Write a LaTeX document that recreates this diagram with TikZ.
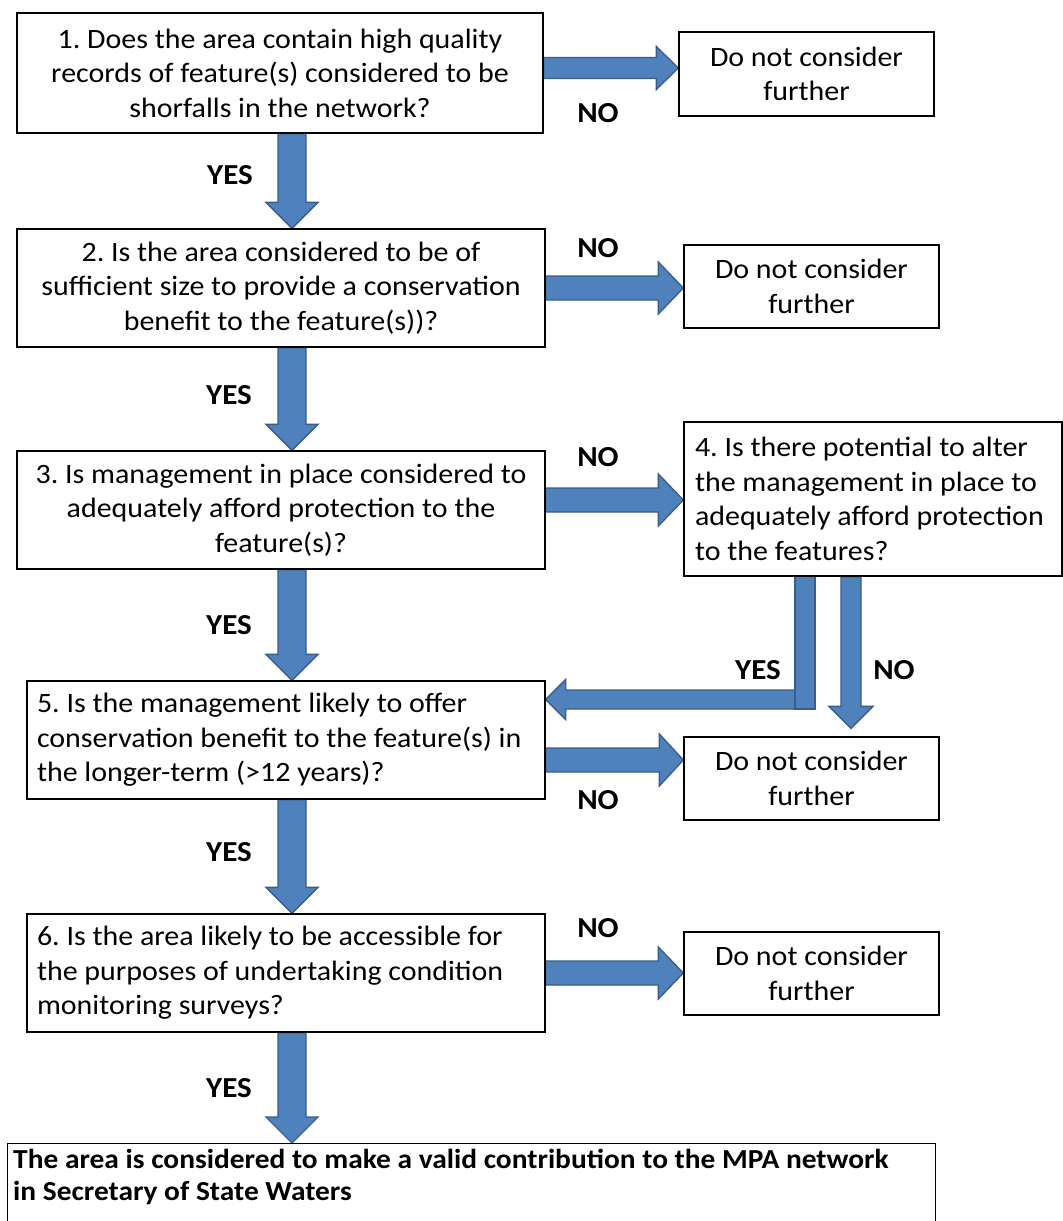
\documentclass[tikz,border=0pt]{standalone}
\usepackage{fontspec}
\setmainfont{Carlito}[FakeStretch=1.07]
\usetikzlibrary{calc,backgrounds}
\definecolor{arrfill}{HTML}{4F81BD}
\definecolor{arredge}{HTML}{385D8A}
\frenchspacing

% right-pointing block arrow: #1 start (y used), #2 end (x of tip), #3 shaft half, #4 head half, #5 head length
\newcommand\RArrow[5]{%
  \path[barrow] let \p1=#1, \p2=#2 in
    (\x1,{\y1+#3pt}) -- ({\x2-#5pt},{\y1+#3pt}) -- ({\x2-#5pt},{\y1+#4pt}) -- (\x2,\y1)
    -- ({\x2-#5pt},{\y1-#4pt}) -- ({\x2-#5pt},{\y1-#3pt}) -- (\x1,{\y1-#3pt}) -- cycle;}
% left-pointing block arrow
\newcommand\LArrow[5]{%
  \path[barrow] let \p1=#1, \p2=#2 in
    (\x1,{\y1+#3pt}) -- ({\x2+#5pt},{\y1+#3pt}) -- ({\x2+#5pt},{\y1+#4pt}) -- (\x2,\y1)
    -- ({\x2+#5pt},{\y1-#4pt}) -- ({\x2+#5pt},{\y1-#3pt}) -- (\x1,{\y1-#3pt}) -- cycle;}
% downward block arrow: #1 start (x used), #2 end (y of tip)
\newcommand\DArrow[5]{%
  \path[barrow] let \p1=#1, \p2=#2 in
    ({\x1-#3pt},\y1) -- ({\x1-#3pt},{\y2+#5pt}) -- ({\x1-#4pt},{\y2+#5pt}) -- (\x1,\y2)
    -- ({\x1+#4pt},{\y2+#5pt}) -- ({\x1+#3pt},{\y2+#5pt}) -- ({\x1+#3pt},\y1) -- cycle;}

\begin{document}
\frenchspacing
\begin{tikzpicture}[x=1pt,y=-1pt,
  box/.style={draw=black, line width=1.3pt, fill=white, inner sep=0pt,
              font=\fontsize{28}{34.5}\selectfont\frenchspacing},
  cbox/.style={box, align=center},
  lbox/.style={box, align=flush left, inner xsep=11pt},
  lbl/.style={font=\fontsize{29}{30}\selectfont\bfseries, inner sep=0pt},
  barrow/.style={fill=arrfill, draw=arredge, line width=1.3pt, line join=miter}]
\useasboundingbox (0,0) rectangle (1063,1221);

% question boxes
\node[cbox, minimum width=526pt, minimum height=120pt] (b1) at (280,73)
  {1. Does the area contain high quality\\records of feature(s) considered to be\\shorfalls in the network?};
\node[cbox, minimum width=528pt, minimum height=118pt] (b2) at (281,288)
  {2. Is the area considered to be of\\sufficient size to provide a conservation\\benefit to the feature(s))?};
\node[cbox, minimum width=528pt, minimum height=118pt] (b3) at (281,510)
  {3. Is management in place considered to\\adequately afford protection to the\\feature(s)?};
\node[lbox, text width=356pt, minimum height=154pt] (b4) at (873,499)
  {4. Is there potential to alter\\the management in place to\\adequately afford protection\\to the features?};
\node[lbox, inner xsep=10pt, text width=498pt, minimum height=118pt] (b5) at (286,740)
  {5. Is the management likely to offer\\conservation benefit to the feature(s) in\\the longer-term (>12 years)?};
\node[lbox, inner xsep=10pt, text width=498pt, minimum height=118pt] (b6) at (286,973)
  {6. Is the area likely to be accessible for\\the purposes of undertaking condition\\monitoring surveys?};

% "do not consider further" boxes
\node[cbox, minimum width=255pt, minimum height=84pt] (d1) at (806.5,74) {Do not consider\\further};
\node[cbox, minimum width=255pt, minimum height=83pt] (d2) at (811.5,286.5) {Do not consider\\further};
\node[cbox, minimum width=255pt, minimum height=83pt] (d3) at (811.5,778.5) {Do not consider\\further};
\node[cbox, minimum width=255pt, minimum height=83pt] (d4) at (811.5,973.5) {Do not consider\\further};

% final box
\node[box, anchor=north west, minimum width=928pt, minimum height=120pt] (fin) at (7,1143) {};
\node[anchor=north west, align=flush left, inner sep=0pt,
      font=\fontsize{27.5}{32}\selectfont\bfseries] (fintext) at ($(fin.north west)+(6,6)$)
  {The area is considered to make a valid contribution to the MPA network\\in Secretary of State Waters};

% labels
\node[lbl] (no1) at (598,113) {NO};
\node[lbl] (yes1) at (230,175) {YES};
\node[lbl] (no2) at (598,248) {NO};
\node[lbl] (yes2) at (229,395) {YES};
\node[lbl] (no3) at (598,457) {NO};
\node[lbl] (yes3) at (229,625) {YES};
\node[lbl] (yes4) at (758,670) {YES};
\node[lbl] (no4) at (894,670) {NO};
\node[lbl] (no5) at (598,800) {NO};
\node[lbl] (yes5) at (229,852) {YES};
\node[lbl] (no6) at (598,928) {NO};
\node[lbl] (yes6) at (229,1088) {YES};

\coordinate (ax) at (292,0);
\coordinate (ye) at ($(b4.south)+(-68,0)$);
\coordinate (ey) at ($(b5.east)+(0,-40.5)$);
\coordinate (nc) at ($(b4.south)+(-22,0)$);

\begin{scope}[on background layer]
  \fill[white] (0,0) rectangle (1063,1221);
  % YES arrows down the main column
  \DArrow{(b1.south -| ax)}{(b2.north -| ax)}{14}{26}{26}
  \DArrow{(b2.south -| ax)}{(b3.north -| ax)}{14}{26}{26}
  \DArrow{(b3.south -| ax)}{(b5.north -| ax)}{14}{26}{26}
  \DArrow{(b5.south -| ax)}{(b6.north -| ax)}{14}{26}{26}
  \DArrow{(b6.south -| ax)}{(fin.north -| ax)}{14}{26}{26}
  % NO arrows to the right
  \RArrow{($(b1.east)+(0,-5)$)}{(d1.west)}{10.5}{21.5}{22}
  \RArrow{(b2.east)}{(d2.west)}{12}{26}{25}
  \RArrow{($(b3.east)+(0,-10)$)}{(b4.west)}{12}{26}{25}
  \RArrow{($(b5.east)+(0,20)$)}{(d3.west)}{12}{26}{24}
  \RArrow{(b6.east)}{(d4.west)}{12}{26}{25}
  % from box 4: YES (bent) and NO
  \LArrow{($(ye |- ey)+(10,0)$)}{(ey)}{9.5}{20}{20}
  \path[barrow] ($(ye)+(-10,0)$) rectangle ($(ye |- ey)+(10,9.5)$);
  \DArrow{(nc)}{($(nc |- d3.north)+(0,-8)$)}{10}{22}{22}
\end{scope}
\end{tikzpicture}
\end{document}
